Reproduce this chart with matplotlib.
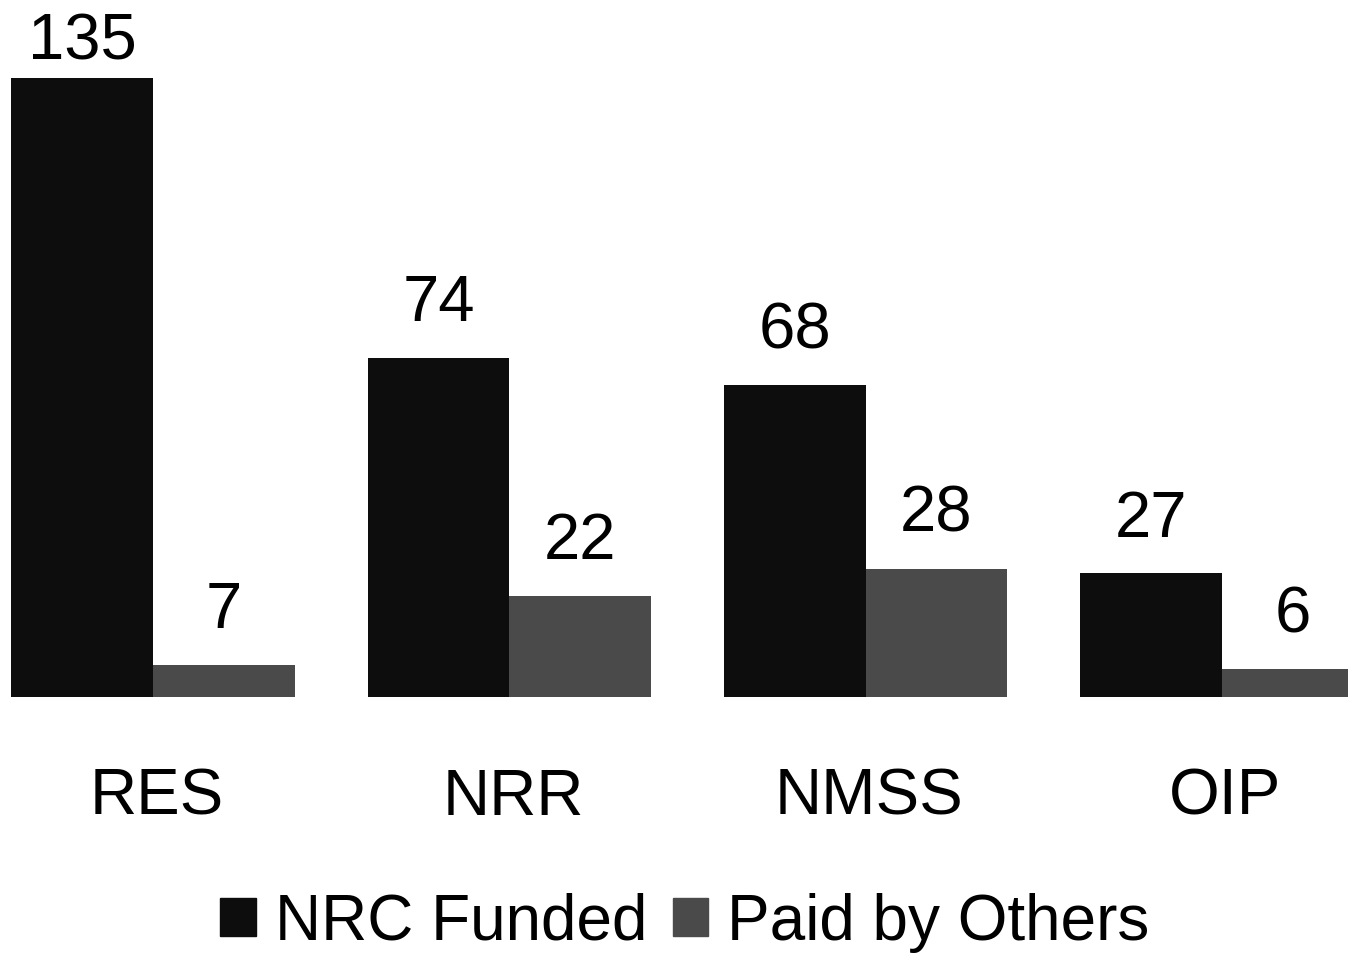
import matplotlib
matplotlib.use("Agg")
import matplotlib.pyplot as plt
from matplotlib.patches import Patch

plt.rcParams["font.family"] = ["Liberation Sans", "DejaVu Sans"]

offices = ["RES", "NRR", "NMSS", "OIP"]
nrc_funded = [135, 74, 68, 27]
paid_by_others = [7, 22, 28, 6]

dark = "#0d0d0d"
gray = "#4a4a4a"

fig = plt.figure(figsize=(13.48, 9.56), dpi=100)
ax = fig.add_axes([0, 0.271, 1, 0.729])

w = 0.398
x = list(range(len(offices)))
ax.bar([i - w / 2 for i in x], nrc_funded, width=w, color=dark)
ax.bar([i + w / 2 for i in x], paid_by_others, width=w, color=gray)

top = max(nrc_funded)
for i in x:
    # tallest label sits closer to its bar so it fits in the figure
    off = 4 if nrc_funded[i] == top else 17
    ax.annotate(str(nrc_funded[i]), (i - w / 2, nrc_funded[i]), xytext=(0, off),
                textcoords="offset points", ha="center", va="bottom", fontsize=47)
    ax.annotate(str(paid_by_others[i]), (i + w / 2, paid_by_others[i]), xytext=(0, 17),
                textcoords="offset points", ha="center", va="bottom", fontsize=47)
    ax.text(i + 0.01, -22, offices[i], ha="center", va="center", fontsize=47)

ax.set_xlim(-0.43, 3.354)
ax.set_ylim(0, 152)
ax.axis("off")

handles = [Patch(color=dark, label="NRC Funded"), Patch(color=gray, label="Paid by Others")]
fig.legend(handles=handles, loc="center", bbox_to_anchor=(0.508, 0.035), ncol=2,
           frameon=False, fontsize=46, handlelength=0.55, handleheight=0.55,
           handletextpad=0.3, columnspacing=0.4)

plt.savefig("out.png")
